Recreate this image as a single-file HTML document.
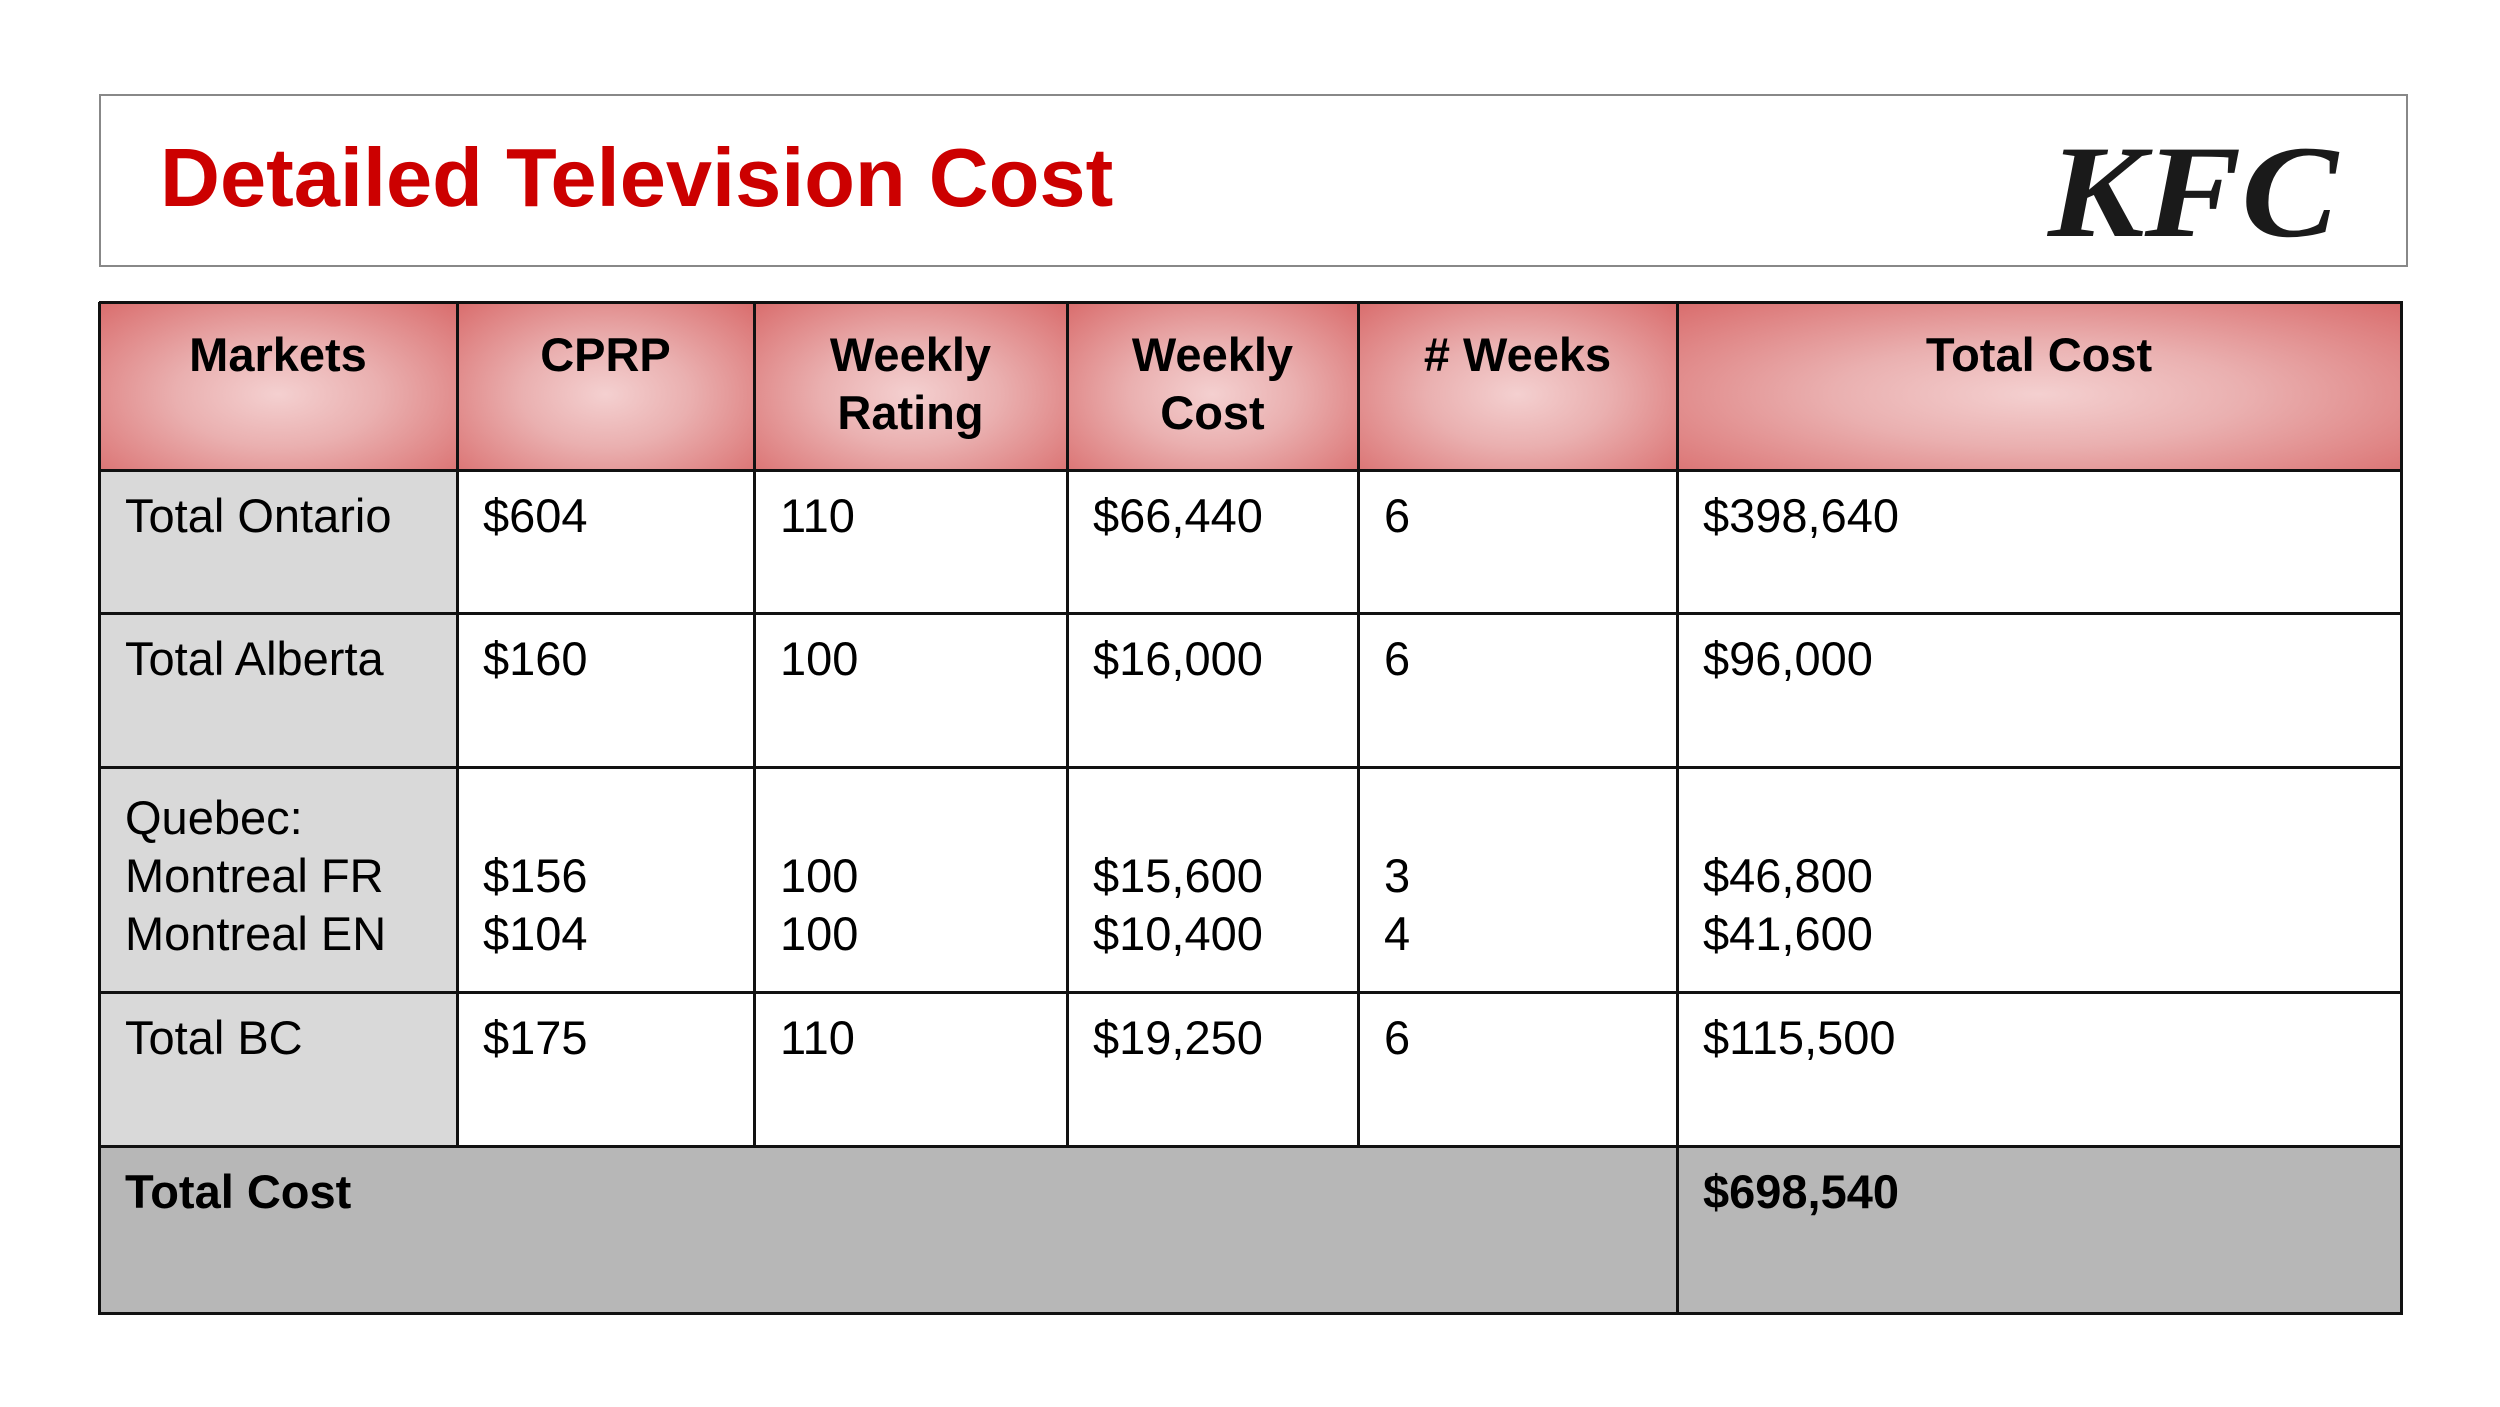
<!DOCTYPE html>
<html><head><meta charset="utf-8">
<style>
body{margin:0;width:2500px;height:1407px;background:#fff;position:relative;overflow:hidden;font-family:"Liberation Sans",Arial,sans-serif;}
.abs{position:absolute;box-sizing:border-box;}
.title-box{left:99px;top:94px;width:2309px;height:173px;border:2px solid #888;}
.title{left:160px;top:136px;font-size:83px;font-weight:bold;color:#cc0000;line-height:1;white-space:nowrap;}
.cell{position:absolute;box-sizing:border-box;font-size:47px;line-height:58px;color:#000;padding-left:26px;}
.hdr{background:radial-gradient(ellipse at 50% 55%,#f4d0d0 0%,#eab0b0 40%,#d96c6c 100%);font-weight:bold;text-align:center;padding-left:0;}
.vl{position:absolute;width:3px;background:#111;}
.hl{position:absolute;height:3px;background:#111;}
</style></head><body>
<div class="abs title-box"></div>
<div class="abs title">Detailed Television Cost</div>
<svg class="abs" style="left:2040px;top:130px" width="310" height="120">
<text x="8" y="106" font-family="Liberation Serif, serif" font-weight="bold" font-style="italic" font-size="132" textLength="290" lengthAdjust="spacingAndGlyphs" fill="#1a1a1a">KFC</text>
</svg>
<div id="table"></div>
<script>
const colX=[99,457,754,1067,1358,1677,2401];
const rowY=[302,470,613,767,992,1146,1313];
const headers=["Markets","CPRP","Weekly<br>Rating","Weekly<br>Cost","# Weeks","Total Cost"];
const rows=[
["Total Ontario","$604","110","$66,440","6","$398,640"],
["Total Alberta","$160","100","$16,000","6","$96,000"],
["Quebec:<br>Montreal FR<br>Montreal EN","<br>$156<br>$104","<br>100<br>100","<br>$15,600<br>$10,400","<br>3<br>4","<br>$46,800<br>$41,600"],
["Total BC","$175","110","$19,250","6","$115,500"]
];
const t=document.getElementById('table');
function cell(x,y,w,h,html,cls,bg){
 const d=document.createElement('div');
 d.className='cell '+(cls||'');
 d.style.left=x+'px';d.style.top=y+'px';d.style.width=w+'px';d.style.height=h+'px';
 if(bg)d.style.background=bg;
 d.innerHTML=html;
 t.appendChild(d);return d;
}
for(let c=0;c<6;c++){
 const d=cell(colX[c],rowY[0],colX[c+1]-colX[c],rowY[1]-rowY[0],headers[c],'hdr');
 d.style.paddingTop='24px';
 
 
}
for(let r=0;r<rows.length;r++){
 for(let c=0;c<6;c++){
  const d=cell(colX[c],rowY[r+1],colX[c+1]-colX[c],rowY[r+2]-rowY[r+1],rows[r][c],'',c==0?'#d9d9d9':'#fff');
  d.style.paddingTop=(r==2?'22px':'17px');
  
  
 }
}
const tl=cell(colX[0],rowY[5],colX[5]-colX[0],rowY[6]-rowY[5],'Total Cost','', '#b7b7b7');
tl.style.fontWeight='bold';tl.style.paddingTop='17px';


const tv=cell(colX[5],rowY[5],colX[6]-colX[5],rowY[6]-rowY[5],'$698,540','', '#b7b7b7');
tv.style.fontWeight='bold';tv.style.paddingTop='17px';


// grid lines
rowY.forEach((y,i)=>{const l=document.createElement('div');l.className='hl';
 l.style.left=colX[0]+'px';l.style.top=(y-1)+'px';l.style.width=(colX[6]-colX[0]+2)+'px';
 
 
 t.appendChild(l);});
colX.forEach((x,i)=>{const l=document.createElement('div');l.className='vl';
 const full=(i==0||i==5||i==6);
 l.style.left=(x-1)+'px';l.style.top=rowY[0]+'px';
 l.style.height=((full?rowY[6]:rowY[5])-rowY[0]+2)+'px';
 
 
 t.appendChild(l);});
</script>
</body></html>
